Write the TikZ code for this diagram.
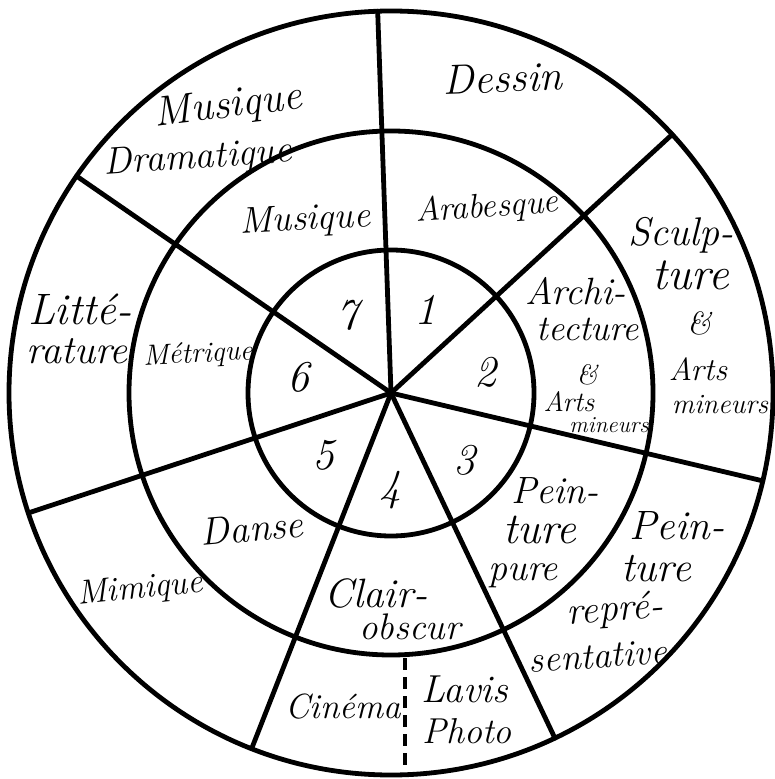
\documentclass[tikz,border=0pt]{standalone}
\usepackage{tikz}
\usetikzlibrary{calc}
\newcommand{\hsz}[1]{\fontsize{#1}{#1}\selectfont\itshape}
\tikzset{
  ring/.style={line width=2.4pt},
  spoke/.style={line width=2.4pt, line cap=round},
  split/.style={line width=1.6pt, dash pattern=on 6pt off 3.5pt},
  lab/.style={inner sep=0pt, font=\hsz{19}},
  num/.style={inner sep=0pt, font=\hsz{22}}
}

\begin{document}
\begin{tikzpicture}[x=0.5pt,y=-0.5pt]
\useasboundingbox (0,0) rectangle (774,779);
\coordinate (hub) at (391,393);

% the three rings
\draw[ring] (hub) circle [radius=382];
\draw[ring] (hub) circle [radius=262];
\draw[ring] (hub) circle [radius=143];

% seven spokes
\foreach \a [count=\i] in {-92,-42.6,13.3,64.6,111.4,161.7,-145.4}
  \coordinate (s\i) at ($(hub)+(\a:382)$);
\foreach \i in {1,...,7}
  \draw[spoke] (hub) -- (s\i);
\fill (hub) circle [radius=5];

% Cinema | Lavis
\coordinate (cut1) at (405,658);
\coordinate (cut2) at (405,771);
\draw[split] (cut1) -- (cut2);

% inner ring
\node[num] (n1) at (425,310) {1};
\node[num] (n2) at (485,372) {2};
\node[num] (n3) at (464,460) {3};
\node[num] (n4) at (390,490) {4};
\node[num] (n5) at (323,455) {5};
\node[num] (n6) at (298,377) {6};
\node[num] (n7) at (347,315) {7};

% middle ring
\node[lab, font=\hsz{17}, rotate=4] (arab) at (487,208) {Arabesque};
\node[lab, font=\hsz{19}] (archA) at (576,291) {Archi-};
\node[lab, font=\hsz{18}] (archB) at (588,329) {tecture};
\node[lab, font=\hsz{14}] (archC) at (587,375) {\&};
\node[lab, font=\hsz{14}] (archD) at (569,402) {Arts};
\node[lab, font=\hsz{11.5}] (archE) at (609,425) {mineurs};
\node[lab] (pureA) at (555,491) {Pein-};
\node[lab, font=\hsz{22}] (pureB) at (540,530) {ture};
\node[lab] (pureC) at (523,576) {pure};
\node[lab, font=\hsz{20.5}] (clairA) at (376,593) {Clair-};
\node[lab, font=\hsz{18.5}] (clairB) at (410,627) {obscur};
\node[lab, font=\hsz{19.5}, rotate=5] (danse) at (252,528) {Danse};
\node[lab, font=\hsz{14.5}, rotate=3] (metr) at (198,355) {Métrique};
\node[lab, font=\hsz{18.5}, rotate=3] (mus) at (305,221) {Musique};

% outer ring
\node[lab, font=\hsz{21}, rotate=2] (dessin) at (503,78) {Dessin};
\node[lab, font=\hsz{20}] (sculA) at (681,235) {Sculp-};
\node[lab, font=\hsz{23}] (sculB) at (691,275) {ture};
\node[lab, font=\hsz{16}] (sculC) at (699,323) {\&};
\node[lab, font=\hsz{16}] (sculD) at (698,369) {Arts};
\node[lab, font=\hsz{14}] (sculE) at (720,405) {mineurs};
\node[lab, font=\hsz{20.5}] (reprA) at (677,526) {Pein-};
\node[lab, font=\hsz{21}] (reprB) at (656,569) {ture};
\node[lab, font=\hsz{19.5}, rotate=4] (reprC) at (615,611) {repré-};
\node[lab, font=\hsz{18.5}, rotate=4] (reprD) at (598,656) {sentative};
\node[lab, font=\hsz{19.5}] (lavis) at (465,689) {Lavis};
\node[lab, font=\hsz{18}] (photo) at (467,731) {Photo};
\node[lab, font=\hsz{17.5}] (cinema) at (343,707) {Cinéma};
\node[lab, font=\hsz{17}, rotate=6] (mimi) at (140,590) {Mimique};
\node[lab, font=\hsz{22}] (litA) at (80,309) {Litté-};
\node[lab, font=\hsz{20}] (litB) at (77,351) {rature};
\node[lab, font=\hsz{21}, rotate=7] (dramA) at (228,107) {Musique};
\node[lab, font=\hsz{19}, rotate=4] (dramB) at (198,159) {Dramatique};
\end{tikzpicture}
\end{document}
